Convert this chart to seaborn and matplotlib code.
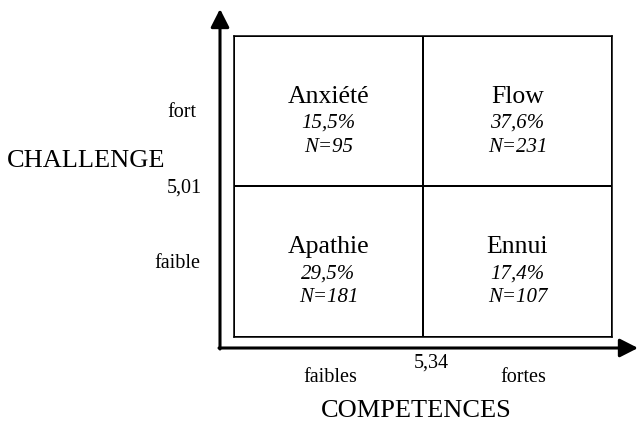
import numpy as np
import pandas as pd
import matplotlib
matplotlib.use("Agg")
import matplotlib.pyplot as plt
from matplotlib.colors import ListedColormap
import seaborn as sns

# quadrant data (rows: challenge fort / faible, cols: competences faibles / fortes)
quadrants = ["Anxiété", "Flow", "Apathie", "Ennui"]
percents = [15.5, 37.6, 29.5, 17.4]
counts = [95, 231, 181, 107]
challenge_levels = ["fort", "faible"]
competence_levels = ["faibles", "fortes"]
challenge_cut = 5.01
competence_cut = 5.34

sns.set_style("white")
plt.rcParams["font.family"] = ["Liberation Serif", "DejaVu Serif"]
plt.rcParams["text.color"] = "black"

W, H = 638, 423
fig = plt.figure(figsize=(W / 100, H / 100), dpi=100)

# the 2x2 grid
box_l, box_r, box_t, box_b = 234, 612, 36, 337
ax = fig.add_axes([box_l / W, 1 - box_b / H, (box_r - box_l) / W, (box_b - box_t) / H])
grid = pd.DataFrame(np.array(counts).reshape(2, 2), index=challenge_levels, columns=competence_levels)
sns.heatmap(grid, cmap=ListedColormap(["white"]), cbar=False, linewidths=1.1,
            linecolor="black", xticklabels=False, yticklabels=False, ax=ax)
for s in ax.spines.values():
    s.set_visible(True)
    s.set_linewidth(1.1)
    s.set_color("black")

for i, (name, pct, n) in enumerate(zip(quadrants, percents, counts)):
    r, c = divmod(i, 2)
    ax.text(c + 0.5, r + 0.444, name, ha="center", va="baseline", fontsize=18.5)
    ax.text(c + 0.5, r + 0.609, f"{pct:.1f}%".replace(".", ","), ha="center",
            va="baseline", fontsize=15, style="italic")
    ax.text(c + 0.5, r + 0.768, f"N={n}", ha="center", va="baseline",
            fontsize=15, style="italic")

# overlay in pixel coordinates for the axis arrows and outer labels
ov = fig.add_axes([0, 0, 1, 1])
ov.set_xlim(0, W)
ov.set_ylim(H, 0)
ov.axis("off")
ov.patch.set_alpha(0)

arrow = dict(arrowstyle="-|>,head_length=0.55,head_width=0.28", lw=2.2,
             color="black", shrinkA=0, shrinkB=0, mutation_scale=20)
ov.annotate("", xy=(220, 9), xytext=(220, 349), arrowprops=arrow)
ov.annotate("", xy=(638, 348), xytext=(219, 348), arrowprops=arrow)

small = 14.5
ov.text(196, 117, challenge_levels[0], ha="right", va="baseline", fontsize=small)
ov.text(200, 268, challenge_levels[1], ha="right", va="baseline", fontsize=small)
ov.text(202, 193, f"{challenge_cut:.2f}".replace(".", ","), ha="right", va="baseline", fontsize=small)
ov.text(7, 167, "CHALLENGE", ha="left", va="baseline", fontsize=19)

ov.text(330, 382, competence_levels[0], ha="center", va="baseline", fontsize=small)
ov.text(523, 382, competence_levels[1], ha="center", va="baseline", fontsize=small)
ov.text(431, 368, f"{competence_cut:.2f}".replace(".", ","), ha="center", va="baseline", fontsize=small)
ov.text(416, 417, "COMPETENCES", ha="center", va="baseline", fontsize=19)

fig.savefig("out.png", dpi=100)
